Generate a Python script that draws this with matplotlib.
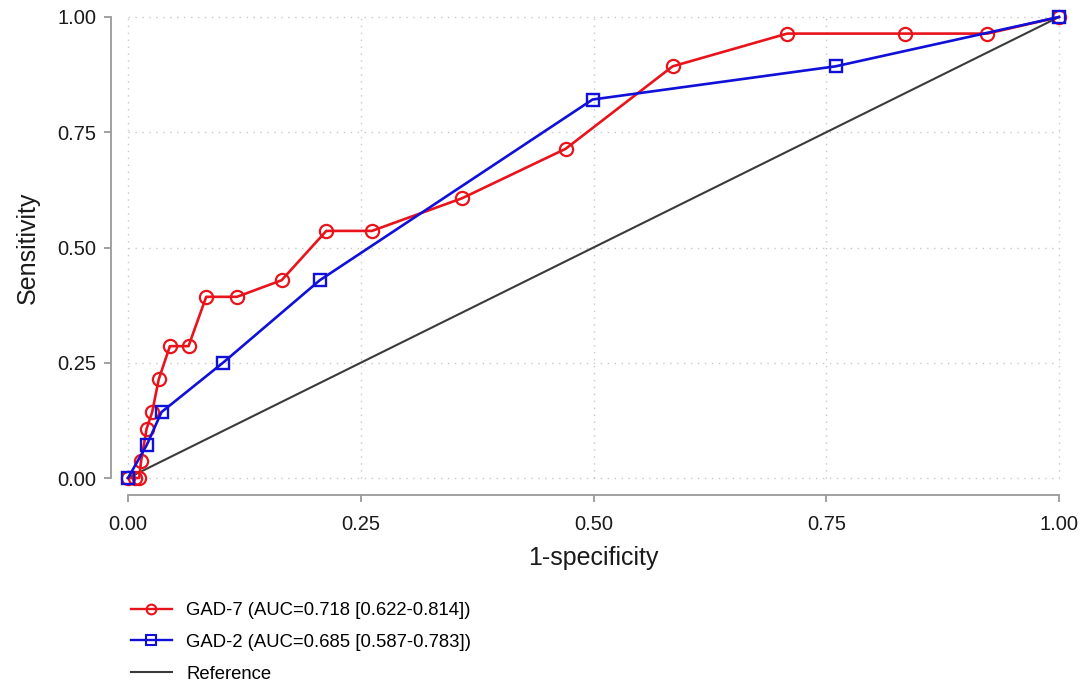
import matplotlib
matplotlib.use("Agg")
import matplotlib.pyplot as plt
from matplotlib.lines import Line2D

plt.rcParams['font.family'] = ['Liberation Sans', 'DejaVu Sans']

# GAD-7 ROC points
gad7_fpr = [0.0, 0.008, 0.012, 0.014, 0.020, 0.026, 0.033, 0.045, 0.065, 0.084, 0.117,
            0.165, 0.213, 0.262, 0.359, 0.470, 0.585, 0.708, 0.835, 0.923, 1.0]
gad7_tpr = [0.0, 0.0, 0.0, 0.036, 0.107, 0.143, 0.214, 0.286, 0.286, 0.393, 0.393,
            0.429, 0.536, 0.536, 0.607, 0.714, 0.893, 0.964, 0.964, 0.964, 1.0]

# GAD-2 ROC points
gad2_fpr = [0.0, 0.020, 0.036, 0.102, 0.206, 0.499, 0.760, 1.0]
gad2_tpr = [0.0, 0.071, 0.143, 0.250, 0.429, 0.821, 0.893, 1.0]

ref = [0.0, 1.0]
ticks = [0.0, 0.25, 0.5, 0.75, 1.0]
tick_labels = ["0.00", "0.25", "0.50", "0.75", "1.00"]
labels = ["GAD-7 (AUC=0.718 [0.622-0.814])", "GAD-2 (AUC=0.685 [0.587-0.783])", "Reference"]

W, H = 1086, 684
fig = plt.figure(figsize=(W / 100, H / 100), dpi=100)
ax = fig.add_axes([128 / W, 1 - 478 / H, (1059 - 128) / W, (478 - 17) / H])

red = '#e8131b'
blue = '#1010d8'
gray = '#9a9a9a'

ax.plot(ref, ref, color='#3a3a3a', lw=1.5, zorder=2, clip_on=False)
ax.plot(gad7_fpr, gad7_tpr, color=red, lw=1.9, marker='o', ms=9.5, mfc='none',
        mec=red, mew=1.6, zorder=3, clip_on=False)
ax.plot(gad2_fpr, gad2_tpr, color=blue, lw=1.9, marker='s', ms=9, mfc='none',
        mec=blue, mew=1.7, zorder=4, clip_on=False)

ax.set_xlim(0, 1)
ax.set_ylim(0, 1)
ax.set_xticks(ticks)
ax.set_xticklabels(tick_labels)
ax.set_yticks(ticks)
ax.set_yticklabels(tick_labels)

for x in ticks:
    ax.axvline(x, color='#c8c8c8', lw=1.0, ls=(0, (1, 4)), zorder=1, clip_on=False)
    ax.axhline(x, color='#c8c8c8', lw=1.0, ls=(0, (1, 4)), zorder=1, clip_on=False)

for s in ['top', 'right']:
    ax.spines[s].set_visible(False)
for s in ['left', 'bottom']:
    ax.spines[s].set_color(gray)
    ax.spines[s].set_linewidth(1.3)
    ax.spines[s].set_position(('outward', 12.5))

ax.tick_params(axis='both', colors=gray, length=5, width=1.3, labelsize=14.5,
               labelcolor='#1a1a1a')
ax.tick_params(axis='y', pad=5)
ax.tick_params(axis='x', pad=9)

ax.set_xlabel("1-specificity", fontsize=18, color='#1a1a1a', labelpad=9)
ax.set_ylabel("Sensitivity", fontsize=18, color='#1a1a1a', labelpad=13)

handles = [
    Line2D([], [], color=red, lw=1.7, marker='o', ms=7, mfc='none', mec=red, mew=1.5),
    Line2D([], [], color=blue, lw=1.7, marker='s', ms=7, mfc='none', mec=blue, mew=1.5),
    Line2D([], [], color='#3a3a3a', lw=1.5),
]
fig.legend(handles, labels, loc='upper left', bbox_to_anchor=(131 / W, 1 - 602 / H),
           frameon=False, borderaxespad=0, borderpad=0, fontsize=13.3,
           handlelength=2.2, handletextpad=0.8, labelspacing=0.8, numpoints=1)

fig.savefig("out.png", dpi=100, facecolor='white')
